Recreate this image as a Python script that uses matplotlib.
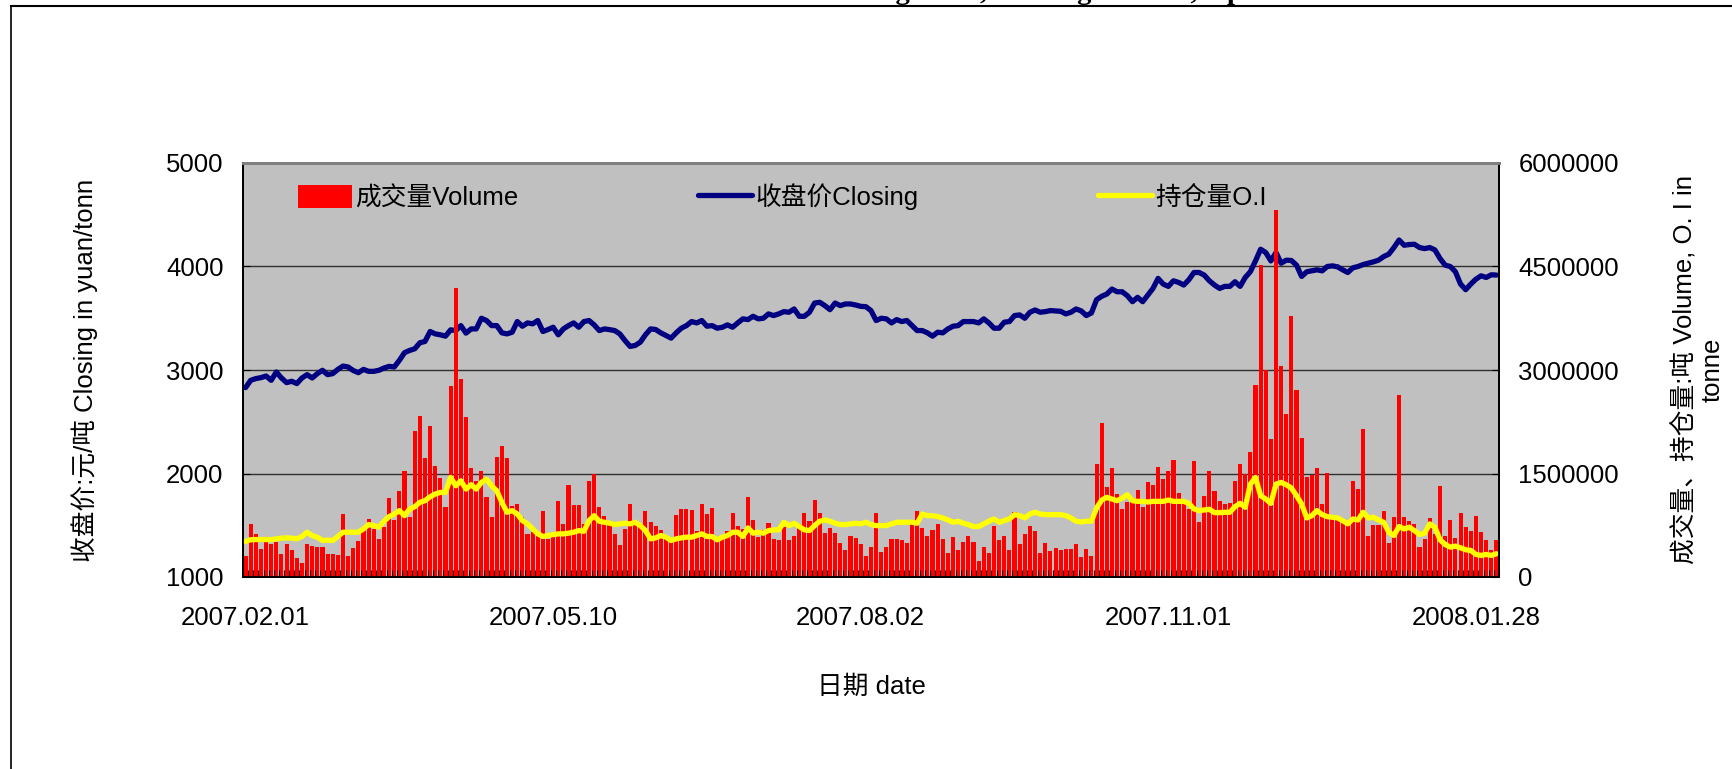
import numpy as np
import matplotlib
matplotlib.use('Agg')
import matplotlib.pyplot as plt
from matplotlib.lines import Line2D
from matplotlib.ticker import FuncFormatter

# 收盘价 元/吨 (2007.02.01 - 2008.02.01, one value per trading day)
closing = [
    2830, 2900, 2917, 2926, 2942, 2900, 2981, 2923, 2878, 2891, 2869, 2923, 2955, 2923, 2965, 2997,
    2955, 2965, 3006, 3038, 3029, 2995, 2974, 3006, 2987, 2987, 2997, 3019, 3035, 3029, 3093, 3167,
    3189, 3205, 3263, 3276, 3372, 3349, 3340, 3327, 3388, 3381, 3429, 3356, 3397, 3397, 3500, 3478,
    3429,
    3429, 3359, 3349, 3365, 3468, 3423, 3455, 3446, 3478, 3372, 3391, 3413, 3340, 3397, 3429, 3455,
    3413, 3468, 3478, 3436, 3381, 3397, 3390, 3381, 3349, 3285, 3228, 3237, 3269, 3340, 3397, 3391,
    3359, 3333, 3308, 3359, 3404, 3429, 3468, 3455, 3478, 3423, 3429, 3404, 3413, 3436, 3413, 3455,
    3494,
    3487, 3519, 3494, 3500, 3542, 3526, 3542, 3564, 3558, 3590, 3519, 3519, 3558, 3647, 3654, 3622,
    3583, 3647, 3622, 3638, 3638, 3628, 3615, 3612, 3574, 3478, 3500, 3494, 3455, 3487, 3468, 3478,
    3429, 3381, 3381, 3359, 3327, 3365, 3359, 3397, 3423, 3429, 3468, 3468, 3468, 3455, 3494, 3455,
    3404,
    3404, 3462, 3468, 3526, 3532, 3500, 3558, 3580, 3558, 3564, 3574, 3570, 3567, 3542, 3558, 3590,
    3571, 3526, 3551, 3679, 3712, 3734, 3782, 3756, 3756, 3718, 3660, 3702, 3660, 3724, 3788, 3885,
    3830, 3808, 3862, 3846, 3821, 3872, 3942, 3942, 3917, 3862, 3821, 3788, 3808, 3808, 3853, 3808,
    3894, 3950,
    4054, 4167, 4135, 4054, 4135, 4032, 4061, 4058, 4013, 3904, 3949, 3958, 3968, 3958, 4000, 4006,
    3997, 3968, 3942, 3987, 4000, 4019, 4032, 4045, 4061, 4096, 4119, 4183, 4256, 4205, 4212, 4215,
    4183, 4173, 4183, 4160, 4077, 4013, 4000, 3949, 3830, 3776, 3830, 3878, 3910, 3894, 3920, 3917,
]

# 成交量 (千吨)
volume_k = [
    310, 770, 625, 410, 505, 480, 505, 340, 480, 385, 275, 200, 480, 450, 430, 430,
    330, 340, 320, 910, 310, 420, 515, 700, 840, 700, 550, 720, 1150, 820, 1250, 1540,
    865, 2115, 2330, 1720, 2190, 1610, 1440, 1010, 2765, 4190, 2870, 2317, 1577, 1394, 1538, 1154,
    865,
    1740, 1900, 1720, 1034, 1058, 875, 625, 649, 625, 962, 553, 577, 1106, 770, 1337, 1048,
    1048, 770, 1385, 1500, 1010, 890, 760, 625, 471, 697, 1058, 817, 770, 952, 793, 745,
    683, 601, 553, 899, 986, 986, 976, 673, 1058, 913, 1000, 553, 577, 673, 923, 745,
    697,
    1163, 827, 577, 683, 784, 553, 539, 721, 529, 587, 770, 923, 817, 1115, 923, 635,
    712, 635, 490, 394, 601, 563, 481, 298, 442, 923, 361, 433, 553, 553, 529, 490,
    827, 962, 712, 587, 683, 770, 553, 346, 577, 394, 505, 601, 505, 226, 433, 346,
    745,
    539, 601, 385, 938, 481, 625, 745, 663, 346, 490, 375, 420, 394, 399, 409, 481,
    288, 409, 303, 1635, 2236, 1308, 1577, 1202, 986, 1082, 1106, 1260, 1010, 1370, 1337, 1596,
    1418, 1529, 1692, 1212, 1106, 986, 1683, 793, 1178, 1539, 1240, 1096, 1058, 1067, 1394, 1644,
    1490, 1817,
    2779, 4520, 3005, 1995, 5313, 3053, 2365, 3789, 2716, 2019, 1452, 1481, 1577, 1058, 1514, 899,
    865, 817, 770, 1394, 1274, 2140, 587, 760, 760, 952, 490, 865, 2635, 865, 817, 770,
    433, 553, 856, 625, 1322, 601, 827, 567, 923, 721, 673, 889, 649, 529, 385, 529,
]

# 持仓量 (千吨)
oi_k = [
    515, 540, 543, 543, 543, 540, 553, 563, 567, 563, 553, 587, 649, 600, 577, 529,
    534, 529, 587, 649, 649, 649, 649, 697, 760, 745, 721, 808, 875, 913, 962, 889,
    985, 1019, 1082, 1106, 1163, 1202, 1226, 1226, 1442, 1322, 1394, 1274, 1337, 1274, 1370, 1418,
    1322,
    1250, 1082, 938, 962, 913, 817, 770, 697, 625, 587, 601, 615, 625, 625, 635, 649,
    673, 663, 817, 889, 808, 793, 780, 760, 770, 779, 770, 793, 745, 673, 553, 567,
    601, 577, 529, 553, 567, 577, 577, 601, 625, 587, 587, 539, 577, 601, 649, 649,
    587,
    712, 635, 649, 635, 673, 683, 683, 793, 745, 779, 731, 683, 673, 745, 808, 827,
    808, 779, 760, 760, 770, 779, 770, 793, 760, 745, 745, 745, 770, 793, 793, 793,
    793, 779, 913, 889, 889, 875, 856, 827, 793, 808, 779, 760, 731, 731, 770, 808,
    841,
    793, 817, 841, 904, 889, 856, 913, 938, 913, 904, 904, 904, 904, 889, 856, 808,
    798, 808, 808, 1000, 1115, 1154, 1130, 1106, 1144, 1192, 1106, 1096, 1096, 1087, 1096, 1096,
    1096, 1115, 1096, 1096, 1096, 1067, 986, 962, 971, 981, 933, 933, 938, 938, 1019, 1067,
    1010, 1346,
    1442, 1178, 1130, 1067, 1346, 1370, 1337, 1289, 1178, 1058, 856, 889, 962, 904, 875, 865,
    856, 817, 770, 841, 827, 938, 856, 865, 827, 793, 649, 601, 731, 697, 721, 673,
    615, 635, 770, 721, 539, 471, 433, 447, 423, 394, 385, 327, 313, 327, 313, 337,
]

date_labels = ['2007.02.01', '2007.05.10', '2007.08.02', '2007.11.01', '2008.01.28']
series_names = ['成交量Volume', '收盘价Closing', '持仓量O.I']

plt.rcParams['font.family'] = ['Liberation Sans', 'Noto Sans CJK SC']
FS = 18.5

W, H = 1733, 769
fig = plt.figure(figsize=(W / 100, H / 100), dpi=100)
left, right, top, bottom = 243, 1499, 163, 577
ax = fig.add_axes([left / W, 1 - bottom / H, (right - left) / W, (bottom - top) / H])
pw, ph = right - left, bottom - top

n = len(closing)
x = np.arange(n)
volume = np.array(volume_k) * 1000
oi = np.array(oi_k) * 1000

ax.set_facecolor('#C0C0C0')
line_close, = ax.plot(x, closing, color='#000080', lw=3.8,
                      solid_joinstyle='round', solid_capstyle='round')
ax.set_ylim(1000, 5000)
ax.set_yticks(np.arange(1000, 5001, 1000))
ax.grid(axis='y', color='#303030', lw=1.0)
ax.set_axisbelow(True)
ax.set_xlim(-0.5, n - 0.5)
ax.set_xticks(np.arange(0, n, 60))
ax.set_xticklabels(date_labels)
ax.set_xticks(np.arange(n + 1) - 0.5, minor=True)
ax.tick_params(axis='x', which='both', bottom=False, labelbottom=False)
ax.tick_params(axis='y', direction='in', length=5, pad=14, labelsize=FS)

ax2 = ax.twinx()
bars = ax2.bar(x, volume, width=0.8, color='#FF0000', linewidth=0)
line_oi, = ax2.plot(x, oi, color='#FFFF00', lw=3.8,
                    solid_joinstyle='round', solid_capstyle='round')
ax2.set_ylim(0, 6000000)
ax2.set_yticks(np.arange(0, 6000001, 1500000))
ax2.yaxis.set_major_formatter(FuncFormatter(lambda v, p: f'{int(v)}'))
ax2.tick_params(axis='y', direction='in', length=5, pad=14, labelsize=FS)

ax2.xaxis.set_visible(True)
ax2.tick_params(axis='x', which='major', length=0, pad=21, labelsize=FS)
ax2.tick_params(axis='x', which='minor', direction='in', length=5, width=0.8, color='black')

for a in (ax, ax2):
    for side in ('left', 'right', 'bottom'):
        a.spines[side].set_color('black')
        a.spines[side].set_linewidth(1.3)
    a.spines['top'].set_color('#808080')
    a.spines['top'].set_linewidth(2)

ax.set_ylabel('收盘价:元/吨 Closing in yuan/tonn', fontsize=FS)
ax.yaxis.set_label_coords((85 - left) / pw, 0.5)
ax.yaxis.label.set_va('center')

ax2.set_ylabel('成交量、持仓量:吨 Volume, O. I in\ntonne', fontsize=FS,
               rotation=90, multialignment='center')
ax2.yaxis.set_label_coords((1698 - left) / pw, 0.5)
ax2.yaxis.label.set_va('center')
ax2.yaxis.label.set_ha('center')

ax2.set_xlabel('日期 date', fontsize=FS)
ax2.xaxis.set_label_coords(0.5, (bottom - 687) / ph)
ax2.xaxis.label.set_va('center')

ax2.legend([bars, line_close, line_oi], series_names, ncol=3, loc='center left',
           bbox_to_anchor=((298 - left) / pw, (bottom - 197) / ph), frameon=False,
           fontsize=FS, handlelength=2.1, handleheight=1.0, handletextpad=0.12,
           columnspacing=7.0, borderaxespad=0, borderpad=0)

# title cut off by the top of the picture
fig.text(818 / W, 1 + 1 / H, 'Closing Price, Trading Volume, Open Interest',
         fontsize=20.5, fontweight='bold', family='Liberation Serif',
         ha='left', va='baseline')

# outer frame
fig.add_artist(Line2D([11 / W, 1], [1 - 5.5 / H, 1 - 5.5 / H], transform=fig.transFigure,
                      color='black', lw=1.5))
fig.add_artist(Line2D([11 / W, 11 / W], [0, 1 - 5.5 / H], transform=fig.transFigure,
                      color='black', lw=1.2))

fig.savefig('out.png', dpi=100)
